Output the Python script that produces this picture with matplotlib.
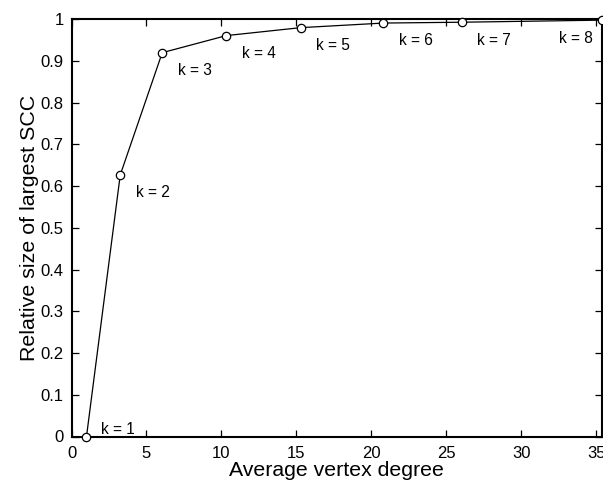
import matplotlib
matplotlib.use("Agg")
import matplotlib.pyplot as plt

# Average vertex degree and relative size of the largest SCC for k = 1..8
k_values = [1, 2, 3, 4, 5, 6, 7, 8]
avg_degree = [1.0, 3.25, 6.05, 10.33, 15.29, 20.8, 26.03, 35.37]
scc_size = [0.0, 0.627, 0.92, 0.961, 0.980, 0.991, 0.993, 0.998]

x_ticks = [0, 5, 10, 15, 20, 25, 30, 35]
y_ticks = [0, 0.1, 0.2, 0.3, 0.4, 0.5, 0.6, 0.7, 0.8, 0.9, 1]
y_tick_labels = ["0", "0.1", "0.2", "0.3", "0.4", "0.5", "0.6", "0.7", "0.8", "0.9", "1"]

plt.rcParams["font.family"] = ["Liberation Sans", "DejaVu Sans"]

fig = plt.figure(figsize=(6.03, 4.83), dpi=100)
ax = fig.add_axes([71.5 / 603, 1 - 436.5 / 483, (602 - 71.5) / 603, (436.5 - 19.3) / 483])

ax.plot(avg_degree, scc_size, color="black", lw=0.9, marker="o", ms=6,
        markerfacecolor="white", markeredgecolor="black", markeredgewidth=0.9,
        clip_on=False, zorder=3)

# label offsets (data units) relative to each point
offsets = {1: (1.0, 0.016), 8: (-2.9, -0.044)}
for k, x, y in zip(k_values, avg_degree, scc_size):
    dx, dy = offsets.get(k, (1.03, -0.043))
    ax.text(x + dx, y + dy, f"k = {k}", fontsize=11.2, ha="left", va="center")

ax.set_xlim(0, avg_degree[-1])
ax.set_ylim(0, 1)
ax.set_xticks(x_ticks)
ax.set_yticks(y_ticks)
ax.set_yticklabels(y_tick_labels)
ax.tick_params(direction="in", length=5, width=0.9, top=True, right=True,
               labelsize=12)
ax.tick_params(axis="x", pad=7)
ax.tick_params(axis="y", pad=5.5)
for s in ax.spines.values():
    s.set_linewidth(1.5)

ax.set_xlabel("Average vertex degree", fontsize=15.3, labelpad=0)
ax.set_ylabel("Relative size of largest SCC", fontsize=15.4, labelpad=1)

fig.savefig("out.png", dpi=100)
